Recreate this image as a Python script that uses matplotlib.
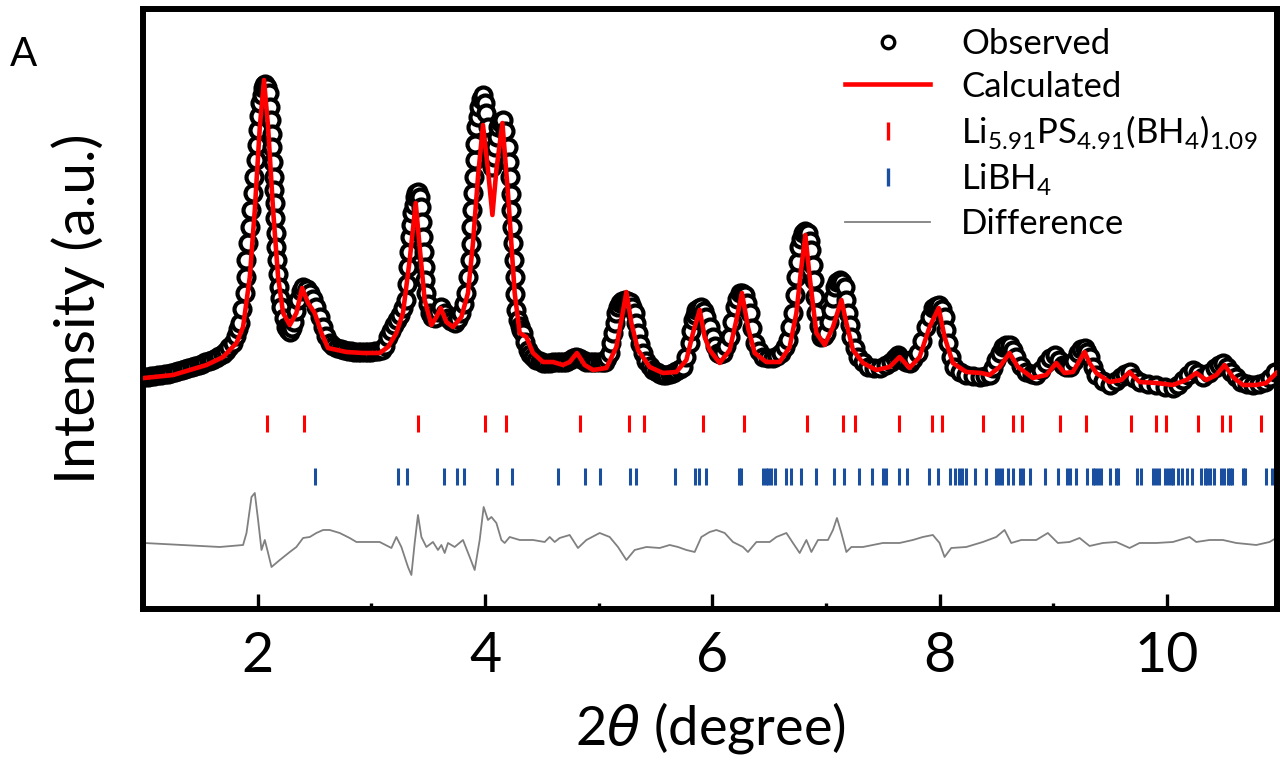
import matplotlib
matplotlib.use("Agg")
import matplotlib.pyplot as plt
from matplotlib.lines import Line2D

plt.rcParams["font.family"] = ["Lato", "DejaVu Sans"]
plt.rcParams["mathtext.fontset"] = "custom"
plt.rcParams["mathtext.rm"] = "Lato"
plt.rcParams["mathtext.it"] = "DejaVu Sans:italic"

# observed pattern (2theta in degree, intensity in a.u.)
obs_x = [1.00, 1.03, 1.06, 1.09, 1.12, 1.15, 1.18, 1.21, 1.24, 1.27, 1.30, 1.33, 1.36, 1.39,
         1.42, 1.45, 1.48, 1.51, 1.54, 1.57, 1.60, 1.63, 1.66, 1.69, 1.72, 1.75, 1.78, 1.81,
         1.83, 1.842, 1.865, 1.886, 1.893, 1.901, 1.915, 1.930, 1.945, 1.959, 1.970, 1.982,
         1.993, 2.003, 2.013, 2.024, 2.035, 2.047, 2.058, 2.068, 2.083, 2.097, 2.105, 2.114,
         2.122, 2.129, 2.135, 2.141, 2.146, 2.150, 2.154, 2.158, 2.164, 2.170, 2.178, 2.187,
         2.197, 2.209, 2.227, 2.246, 2.263, 2.28, 2.30, 2.32, 2.338, 2.355, 2.377, 2.399,
         2.43, 2.458, 2.487, 2.516, 2.545, 2.575, 2.604, 2.633, 2.665, 2.70, 2.73, 2.76,
         2.79, 2.82, 2.85, 2.88, 2.91, 2.94, 2.97, 3.00, 3.03, 3.06, 3.09, 3.12, 3.15, 3.175,
         3.20, 3.225, 3.25, 3.28, 3.308, 3.315, 3.322, 3.33, 3.337, 3.349, 3.361, 3.371,
         3.381, 3.395, 3.410, 3.425, 3.440, 3.447, 3.454, 3.462, 3.469, 3.476, 3.484, 3.498,
         3.513, 3.535, 3.557, 3.587, 3.616, 3.645, 3.674, 3.703, 3.733, 3.762, 3.792, 3.814,
         3.836, 3.85, 3.865, 3.873, 3.880, 3.887, 3.894, 3.902, 3.909, 3.916, 3.924, 3.935,
         3.947, 3.965, 3.982, 3.997, 4.012, 4.026, 4.04, 4.052, 4.065, 4.078, 4.09, 4.102,
         4.114, 4.136, 4.158, 4.18, 4.202, 4.21, 4.217, 4.225, 4.232, 4.239, 4.246, 4.254,
         4.261, 4.268, 4.276, 4.29, 4.305, 4.32, 4.334, 4.356, 4.378, 4.40, 4.425, 4.452,
         4.48, 4.51, 4.54, 4.57, 4.60, 4.63, 4.66, 4.69, 4.716, 4.745, 4.774, 4.80, 4.83,
         4.86, 4.892, 4.92, 4.95, 4.98, 5.01, 5.035, 5.053, 5.075, 5.097, 5.112, 5.126,
         5.141, 5.156, 5.17, 5.185, 5.207, 5.229, 5.251, 5.273, 5.295, 5.317, 5.332, 5.346,
         5.368, 5.390, 5.42, 5.45, 5.478, 5.51, 5.54, 5.566, 5.595, 5.625, 5.654, 5.683,
         5.712, 5.742, 5.772, 5.801, 5.815, 5.830, 5.845, 5.860, 5.882, 5.904, 5.926, 5.948,
         5.977, 6.006, 6.028, 6.050, 6.072, 6.094, 6.124, 6.153, 6.175, 6.197, 6.219, 6.241,
         6.263, 6.285, 6.307, 6.329, 6.351, 6.373, 6.41, 6.446, 6.49, 6.534, 6.57, 6.608,
         6.637, 6.666, 6.688, 6.710, 6.725, 6.740, 6.752, 6.763, 6.78, 6.798, 6.82, 6.842,
         6.857, 6.872, 6.882, 6.892, 6.904, 6.916, 6.938, 6.960, 6.982, 7.004, 7.025, 7.047,
         7.062, 7.077, 7.10, 7.121, 7.143, 7.165, 7.18, 7.194, 7.209, 7.223, 7.252, 7.282,
         7.326, 7.370, 7.42, 7.473, 7.525, 7.576, 7.605, 7.634, 7.656, 7.677, 7.706, 7.736,
         7.77, 7.809, 7.846, 7.883, 7.912, 7.941, 7.967, 7.994, 8.02, 8.044, 8.058, 8.073,
         8.10, 8.131, 8.18, 8.235, 8.29, 8.352, 8.40, 8.440, 8.47, 8.499, 8.53, 8.558,
         8.587, 8.616, 8.645, 8.675, 8.72, 8.763, 8.81, 8.851, 8.895, 8.939, 8.975, 9.012,
         9.05, 9.086, 9.115, 9.144, 9.18, 9.218, 9.247, 9.276, 9.30, 9.320, 9.35, 9.379,
         9.44, 9.496, 9.55, 9.599, 9.635, 9.672, 9.715, 9.760, 9.83, 9.907, 9.98, 10.053,
         10.097, 10.141, 10.185, 10.229, 10.273, 10.317, 10.37, 10.420, 10.457, 10.493,
         10.53, 10.567, 10.61, 10.655, 10.705, 10.757, 10.81, 10.860, 10.905, 10.948]
obs_y = [230, 230, 231, 231, 232, 232, 233, 233, 234, 235, 236, 237, 238, 239,
         240, 241, 242, 243, 245, 246, 247, 249, 251, 253, 256, 260, 264, 271,
         278, 284, 298, 314, 330, 347, 364, 380, 397, 414, 430, 447,
         462, 477, 491, 504, 512, 519, 522, 523, 520, 514, 500, 487,
         473, 460, 445, 430, 417, 404, 389, 374, 360, 347, 333, 320,
         309, 300, 289, 280, 277, 275, 279, 285, 296, 307, 316, 320,
         318, 314, 308, 300, 290, 280, 271, 264, 261, 259, 258, 257,
         256, 256, 255, 255, 255, 255, 255, 255, 256, 256, 257, 261, 270, 276,
         282, 287, 292, 299, 307, 323, 340, 355, 370, 382, 394, 402,
         410, 414, 415, 410, 400, 385, 370, 355, 340, 327, 314, 303,
         294, 290, 289, 295, 300, 294, 289, 286, 284, 288, 294, 303,
         314, 330, 347, 363, 380, 397, 414, 430, 447, 463, 480, 490,
         500, 508, 512, 504, 494, 480, 465, 452, 440, 450, 460, 470,
         480, 485, 487, 476, 460, 445, 430, 413, 397, 380, 364, 347,
         330, 313, 297, 287, 281, 277, 274, 265, 257, 253, 250, 247,
         246, 244, 244, 244, 245, 245, 245, 245, 245, 247, 249, 250, 249,
         247, 245, 245, 245, 245, 245, 245, 245, 249, 254, 264, 274,
         284, 294, 300, 304, 306, 307, 306, 305, 300, 294, 284, 274,
         263, 254, 246, 241, 237, 235, 233, 232, 232, 233, 234, 236,
         238, 240, 250, 264, 276, 287, 292, 297, 299, 300, 296, 290,
         280, 270, 261, 254, 253, 254, 261, 270, 285, 300, 308, 314,
         314, 312, 304, 294, 279, 264, 256, 250, 249, 249, 251, 254,
         260, 267, 280, 294, 312, 330, 345, 360, 368, 374, 376, 374,
         366, 357, 342, 327, 310, 294, 281, 270, 271, 274, 285, 297,
         309, 320, 325, 327, 325, 320, 307, 294, 282, 270, 259, 250,
         245, 240, 239, 239, 242, 245, 249, 252, 249, 247, 245, 244,
         248, 254, 266, 280, 290, 299, 301, 302, 298, 290, 277, 264,
         250, 240, 235, 232, 231, 230, 231, 232, 239, 247, 254, 260,
         262, 262, 257, 250, 241, 235, 233, 232, 237, 244, 249, 252,
         247, 242, 240, 240, 246, 254, 258, 259, 255, 250, 240, 232,
         226, 222, 226, 230, 233, 235, 229, 225, 223, 222, 220, 219,
         222, 227, 232, 237, 234, 230, 234, 239, 242, 244,
         240, 235, 230, 225, 223, 222, 223, 225, 229, 235]

# calculated pattern
calc_x = [1.00, 1.255, 1.549, 1.695, 1.813, 1.871, 1.930, 1.974, 2.018, 2.055, 2.091, 2.135,
          2.179, 2.223, 2.282, 2.340, 2.390, 2.443, 2.501, 2.560, 2.618, 2.780, 2.926, 3.073,
          3.146, 3.220, 3.278, 3.337, 3.390, 3.425, 3.469, 3.528, 3.572, 3.610, 3.660, 3.718,
          3.792, 3.850, 3.894, 3.938, 3.982, 4.026, 4.065, 4.100, 4.153, 4.202, 4.261, 4.305,
          4.364, 4.422, 4.510, 4.598, 4.686, 4.745, 4.809, 4.877, 4.950, 5.068, 5.156, 5.200,
          5.244, 5.288, 5.346, 5.449, 5.566, 5.684, 5.772, 5.830, 5.889, 5.933, 5.977, 6.065,
          6.153, 6.212, 6.261, 6.314, 6.373, 6.476, 6.593, 6.681, 6.740, 6.784, 6.819, 6.857,
          6.916, 6.989, 7.062, 7.136, 7.180, 7.238, 7.326, 7.443, 7.560, 7.648, 7.736, 7.824,
          7.912, 7.992, 8.044, 8.117, 8.235, 8.367, 8.440, 8.528, 8.616, 8.689, 8.821, 8.939,
          9.027, 9.100, 9.173, 9.276, 9.320, 9.379, 9.496, 9.599, 9.672, 9.760, 9.907, 10.053,
          10.171, 10.259, 10.347, 10.435, 10.508, 10.581, 10.669, 10.787, 10.875, 10.963]
calc_y = [229, 232, 242, 250, 264, 280, 330, 397, 480, 527, 480, 397,
          330, 294, 282, 294, 319, 304, 294, 274, 259, 255, 254, 254,
          260, 274, 294, 347, 404, 360, 307, 282, 290, 299, 285, 280,
          290, 314, 364, 430, 482, 437, 392, 437, 484, 414, 314, 274,
          270, 254, 245, 245, 242, 245, 254, 242, 237, 239, 260, 287,
          315, 284, 257, 240, 234, 235, 247, 274, 297, 270, 257, 244,
          257, 287, 314, 280, 254, 245, 245, 260, 294, 340, 372, 330,
          274, 262, 280, 307, 284, 257, 244, 237, 240, 250, 239, 250,
          280, 299, 270, 244, 235, 234, 232, 240, 254, 240, 229, 232,
          244, 234, 235, 255, 244, 234, 225, 227, 235, 225, 224, 222,
          227, 234, 227, 232, 242, 230, 222, 222, 224, 234]

# difference curve (offset)
diff_x = [1.00, 1.666, 1.871, 1.901, 1.945, 1.974, 2.003, 2.033, 2.062, 2.091, 2.121, 2.194,
          2.282, 2.340, 2.399, 2.458, 2.516, 2.575, 2.633, 2.721, 2.809, 2.868, 3.073, 3.176,
          3.220, 3.264, 3.322, 3.352, 3.381, 3.410, 3.440, 3.484, 3.542, 3.586, 3.616, 3.645,
          3.674, 3.733, 3.806, 3.865, 3.909, 3.953, 3.988, 4.026, 4.056, 4.100, 4.144, 4.173,
          4.217, 4.305, 4.422, 4.525, 4.569, 4.613, 4.657, 4.745, 4.818, 4.892, 5.009, 5.097,
          5.170, 5.244, 5.317, 5.420, 5.537, 5.625, 5.698, 5.772, 5.845, 5.904, 5.977, 6.036,
          6.109, 6.182, 6.270, 6.314, 6.388, 6.505, 6.564, 6.652, 6.710, 6.769, 6.828, 6.872,
          6.930, 7.018, 7.062, 7.097, 7.136, 7.180, 7.224, 7.326, 7.413, 7.501, 7.648, 7.765,
          7.853, 7.941, 8.000, 8.044, 8.103, 8.235, 8.381, 8.499, 8.572, 8.631, 8.719, 8.851,
          8.953, 9.041, 9.144, 9.232, 9.320, 9.437, 9.555, 9.672, 9.760, 9.907, 10.053, 10.200,
          10.259, 10.376, 10.493, 10.611, 10.787, 10.904, 10.977]
diff_y = [64, 60, 62, 74, 110, 114, 87, 57, 67, 54, 40, 47,
          55, 60, 69, 70, 74, 77, 77, 74, 69, 65, 65, 59,
          70, 60, 40, 32, 64, 92, 70, 60, 65, 57, 62, 54,
          64, 60, 67, 50, 37, 67, 100, 87, 90, 84, 67, 64,
          70, 67, 67, 65, 70, 65, 69, 72, 59, 67, 74, 70,
          60, 47, 57, 60, 59, 62, 60, 57, 55, 70, 75, 77,
          74, 65, 60, 55, 65, 65, 70, 74, 64, 54, 67, 55,
          67, 67, 77, 89, 74, 55, 60, 60, 62, 64, 64, 67,
          70, 72, 64, 50, 59, 60, 65, 70, 77, 64, 67, 67,
          74, 64, 65, 69, 61, 64, 65, 59, 64, 64, 65, 70,
          65, 67, 67, 64, 62, 65, 70]

# Bragg reflection positions
ticks_main = [2.085, 2.407, 3.410, 4.003, 4.182, 4.833, 5.267, 5.402, 5.921, 6.279, 6.836,
              7.150, 7.253, 7.642, 7.933, 8.021, 8.381, 8.645, 8.728, 9.056, 9.291, 9.687,
              9.907, 9.989, 10.273, 10.488, 10.558, 10.831]
ticks_libh4 = [2.501, 3.234, 3.317, 3.636, 3.757, 3.815, 4.109, 4.241, 4.642, 4.883, 5.015,
               5.273, 5.326, 5.669, 5.845, 5.883, 5.948, 6.235, 6.256, 6.446, 6.469, 6.493,
               6.516, 6.549, 6.651, 6.689, 6.784, 6.916, 7.068, 7.158, 7.288, 7.405, 7.501,
               7.525, 7.647, 7.712, 7.907, 7.988, 8.095, 8.135, 8.168, 8.200, 8.233, 8.314,
               8.411, 8.493, 8.519, 8.551, 8.600, 8.649, 8.704, 8.731, 8.796, 8.932, 9.039,
               9.121, 9.144, 9.202, 9.300, 9.346, 9.372, 9.397, 9.420, 9.502, 9.551, 9.567,
               9.740, 9.772, 9.876, 9.902, 9.935, 9.983, 10.006, 10.039, 10.055, 10.098,
               10.137, 10.179, 10.218, 10.299, 10.332, 10.355, 10.380, 10.413, 10.478,
               10.504, 10.537, 10.560, 10.576, 10.667, 10.690, 10.869, 10.928, 10.961]

RED = "#ff0000"
BLUE = "#1a4f9f"
GREY = "#808080"

fig = plt.figure(figsize=(12.8, 7.64), dpi=100)
ax = fig.add_axes([0.1117, 0.2029, 0.886, 0.7853])

ax.plot(obs_x, obs_y, "o", ms=11.5, mew=3.0, mec="black", mfc="white", zorder=2)
ax.plot(calc_x, calc_y, color=RED, lw=3.3, zorder=3)
ax.vlines(ticks_main, 175, 192, color=RED, lw=2.2)
ax.vlines(ticks_libh4, 122, 139, color=BLUE, lw=2.2)
ax.plot(diff_x, diff_y, color=GREY, lw=1.3)

ax.set_xlim(0.99, 10.97)
ax.set_ylim(-2, 598)
ax.set_yticks([])
ax.set_xticks([2, 4, 6, 8, 10])
ax.set_xticks([3, 5, 7, 9], minor=True)
ax.tick_params(axis="x", which="major", direction="in", length=11, width=2.4,
               labelsize=40, pad=16)
ax.tick_params(axis="x", which="minor", direction="in", length=4, width=2.4)
for s in ax.spines.values():
    s.set_linewidth(4.3)

ax.set_xlabel("2$\\theta$ (degree)", fontsize=39, labelpad=13)
ax.set_ylabel("Intensity (a.u.)", fontsize=41, labelpad=27)
fig.text(10 / 1280, 1 - 66 / 764, "A", fontsize=29, va="baseline")

handles = [
    Line2D([], [], ls="none", marker="o", ms=9, mew=2.4, mec="black", mfc="white"),
    Line2D([], [], color=RED, lw=3.3),
    Line2D([], [], ls="none", marker="|", ms=13, mew=2.4, color=RED),
    Line2D([], [], ls="none", marker="|", ms=13, mew=2.4, color=BLUE),
    Line2D([], [], color=GREY, lw=1.3),
]
labels = ["Observed", "Calculated", "Li$_{5.91}$PS$_{4.91}$(BH$_4$)$_{1.09}$",
          "LiBH$_4$", "Difference"]
ax.legend(handles, labels, loc="upper left", bbox_to_anchor=(0.619, 0.968),
          frameon=False, fontsize=25, handlelength=2.45, handletextpad=0.9,
          labelspacing=0.3, borderpad=0, borderaxespad=0)

fig.savefig("out.png", dpi=100)
